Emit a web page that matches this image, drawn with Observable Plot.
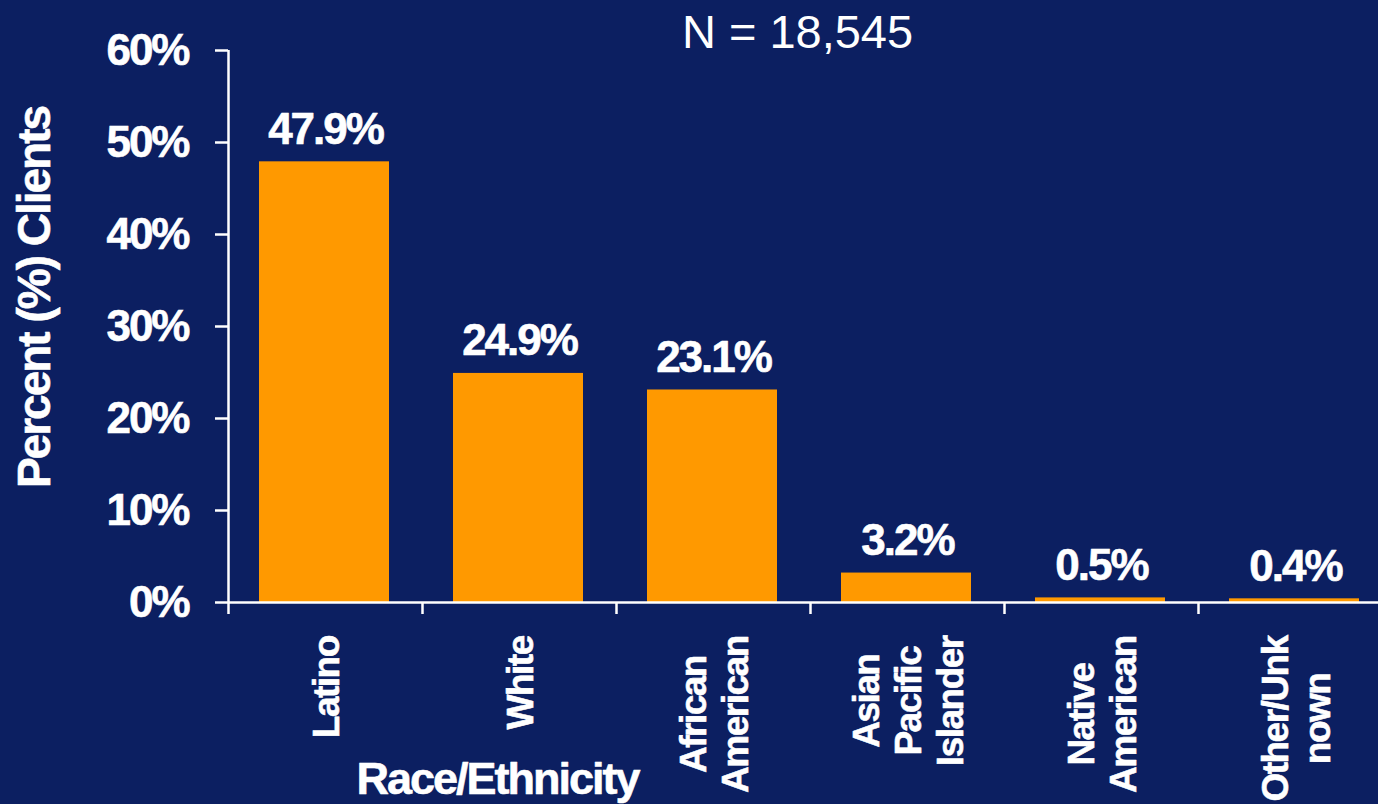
<!DOCTYPE html>
<html>
<head>
<meta charset="utf-8">
<script src="https://cdn.jsdelivr.net/npm/d3@7"></script>
<script src="https://cdn.jsdelivr.net/npm/@observablehq/plot@0.6"></script>
<style>
  html, body { margin: 0; padding: 0; background: #0c1f61; overflow: hidden; }
  #chart svg { display: block; }
</style>
</head>
<body>
<div id="chart"></div>
<script>
// ---- data ----
const categories = ["Latino", "White", "African\nAmerican", "Asian\nPacific\nIslander", "Native\nAmerican", "Other/Unk\nnown"];
const values = [47.9, 24.9, 23.1, 3.2, 0.5, 0.4];
const yTicks = [0, 10, 20, 30, 40, 50, 60];
const titleText = "N = 18,545";
const yLabel = "Percent (%) Clients";
const xLabel = "Race/Ethnicity";

// ---- build ----
const data = categories.map((c, i) => ({category: c, index: i, value: values[i]}));
const FONT = "'Liberation Sans', Arial, Helvetica, sans-serif";
const BG = "#0c1f61";
const BAR = "#ff9900";
const catFontSize = 37;
const catSpacing = -1.5;
const spacingBySize = {"44": -2, "37": catSpacing, "45": -2, "46": -2};

const ctx = document.createElement("canvas").getContext("2d");
ctx.font = `bold ${catFontSize}px ${FONT}`;
const maxLineWidth = (c) =>
  Math.max(...c.split("\n").map((l) => ctx.measureText(l).width + catSpacing * (l.length - 1)));

const bold = {fontWeight: "bold", fill: "white", stroke: "white", strokeWidth: 0.6};

const catMarks = data.map((d) =>
  Plot.text([d], {
    x: (d) => d.index + 0.5,
    text: (d) => d.category,
    frameAnchor: "bottom",
    rotate: -90,
    textAnchor: "middle",
    lineAnchor: "middle",
    lineHeight: 1.13,
    dy: 33 + maxLineWidth(d.category) / 2,
    fontSize: catFontSize,
    ...bold
  })
);

const chart = Plot.plot({
  width: 1392,
  height: 804,
  marginTop: 50,
  marginRight: 0,
  marginBottom: 202,
  marginLeft: 228,
  style: {background: BG, color: "white", maxWidth: "none", overflow: "visible", fontFamily: FONT},
  x: {domain: [0, categories.length], axis: null},
  y: {domain: [0, 60], axis: null},
  marks: [
    Plot.rect(data, {
      x1: (d) => d.index,
      x2: (d) => d.index + 1,
      y1: () => 0,
      y2: (d) => d.value,
      insetLeft: 31,
      insetRight: 33,
      fill: BAR
    }),
    Plot.axisY(yTicks, {
      tickSize: 13,
      tickPadding: 27,
      tickFormat: (d) => d + "%",
      fontSize: 44,
      fontWeight: "bold",
      stroke: "white",
      strokeWidth: 2.5,
      fill: "white",
      label: null
    }),
    Plot.axisX(d3.range(categories.length + 1), {
      tickSize: 12,
      tickFormat: () => "",
      stroke: "white",
      strokeWidth: 2.5,
      label: null
    }),
    Plot.ruleX([0], {stroke: "white", strokeWidth: 2.5}),
    Plot.ruleY([0], {stroke: "white", strokeWidth: 2.5}),
    Plot.text(data, {
      x: (d) => d.index + 0.5,
      y: (d) => d.value,
      text: (d) => d.value.toFixed(1) + "%",
      dy: -18,
      lineAnchor: "bottom",
      fontSize: 44,
      ...bold
    }),
    ...catMarks,
    Plot.text([titleText], {
      text: (d) => d,
      frameAnchor: "top",
      dx: -13,
      dy: -3,
      lineAnchor: "bottom",
      fontSize: 47,
      fontWeight: "normal",
      fill: "white"
    }),
    Plot.text([xLabel], {
      text: (d) => d,
      frameAnchor: "bottom-left",
      textAnchor: "middle",
      dx: 269,
      dy: 191,
      lineAnchor: "bottom",
      fontSize: 45,
      ...bold
    }),
    Plot.text([yLabel], {
      text: (d) => d,
      frameAnchor: "left",
      textAnchor: "middle",
      rotate: -90,
      dx: -193,
      dy: -29,
      lineAnchor: "middle",
      fontSize: 46,
      ...bold
    })
  ]
});

// tighten letter spacing of the heavy bold labels
chart.querySelectorAll("g[font-weight='bold']").forEach((g) => {
  const s = spacingBySize[g.getAttribute("font-size")];
  if (s !== undefined) g.setAttribute("letter-spacing", s + "px");
});
// axis tick labels: light outline so they read as heavy as the other labels
chart.querySelectorAll("g[aria-label='y-axis tick label']").forEach((g) => {
  g.setAttribute("stroke", "white");
  g.setAttribute("stroke-width", "0.6");
});

document.getElementById("chart").appendChild(chart);
</script>
</body>
</html>
